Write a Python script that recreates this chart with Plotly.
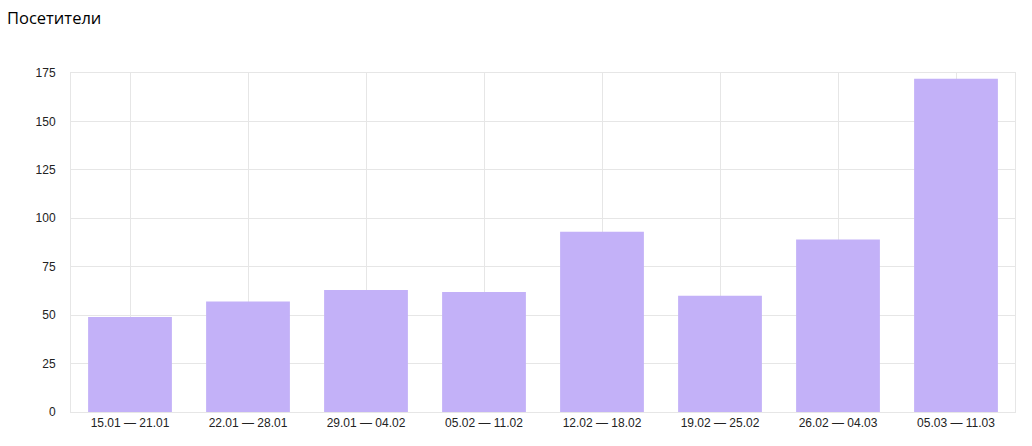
import plotly.graph_objects as go

categories = ["15.01 — 21.01", "22.01 — 28.01", "29.01 — 04.02", "05.02 — 11.02",
              "12.02 — 18.02", "19.02 — 25.02", "26.02 — 04.03", "05.03 — 11.03"]
visitors = [49, 57, 63, 62, 93, 60, 89, 172]
y_ticks = [0, 25, 50, 75, 100, 125, 150, 175]

fig = go.Figure(go.Bar(x=categories, y=visitors, marker_color="#c3b1f8",
                       marker_line_width=0, hoverinfo="x+y"))

fig.update_layout(
    width=1032, height=446,
    margin=dict(l=71, r=17, t=73, b=34),
    paper_bgcolor="white", plot_bgcolor="white",
    bargap=0.29,
    showlegend=False,
    title=dict(text="Посетители", x=7/1032, xref="container", xanchor="left",
               y=1-18/446, yref="container", yanchor="middle",
               font=dict(family="Open Sans, Noto Sans, sans-serif", size=16.5, color="#000")),
    font=dict(family="Liberation Sans, Arial, sans-serif", size=12, color="#222"),
)
fig.update_xaxes(type="category", showgrid=True, gridcolor="#e6e6e6", gridwidth=1,
                 showline=True, linecolor="#e6e6e6", mirror=True, ticks="", fixedrange=True)
fig.update_yaxes(range=[0, 175], tickvals=y_ticks, showgrid=True, gridcolor="#e6e6e6",
                 showline=True, linecolor="#e6e6e6", mirror=True, zeroline=False,
                 ticks="", ticklabelstandoff=12, fixedrange=True)

fig.write_html("out.html", config={"displayModeBar": False},
               post_script="document.body.style.margin='0';document.body.style.overflow='hidden';")
